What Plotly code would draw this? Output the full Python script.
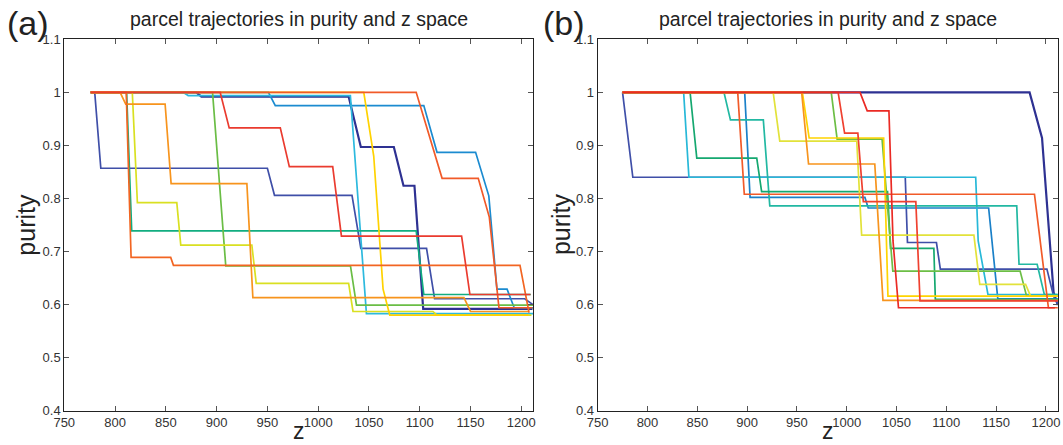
import plotly.graph_objects as go

# window geometry: the html body keeps its default 8px margin; the whole
# CAP_W x CAP_H page is shown at OUT_W x OUT_H
OUT_W, OUT_H = 1063, 445
CAP_W, CAP_H = 1079, 461
BODY_MARGIN = 8
W, H = CAP_W - 2 * BODY_MARGIN, CAP_H - 2 * BODY_MARGIN

# ---------------- panel (a): parcel trajectories ----------------
a_navy_z = [776, 880, 885, 1030, 1042, 1074.5, 1084, 1094.8, 1103.4, 1211]
a_navy_p = [1, 1, 0.992, 0.992, 0.897, 0.897, 0.824, 0.824, 0.592, 0.592]

a_dblue_z = [776, 780, 786, 950, 957, 1033.3, 1042, 1106.7, 1114.6, 1203.4, 1211.5]
a_dblue_p = [1, 1, 0.857, 0.857, 0.806, 0.806, 0.706, 0.706, 0.611, 0.611, 0.600]

a_blue_z = [776, 951, 957.8, 1104, 1117, 1155, 1168, 1176, 1186, 1193, 1211.5]
a_blue_p = [1, 1, 0.975, 0.975, 0.887, 0.887, 0.805, 0.629, 0.629, 0.594, 0.594]

a_cyan_z = [776, 867, 872, 1031.7, 1047.5, 1211.5]
a_cyan_p = [1, 1, 0.994, 0.994, 0.583, 0.583]

a_teal_z = [776, 811.4, 816.4, 1096.5, 1104, 1209.3]
a_teal_p = [1, 1, 0.739, 0.739, 0.619, 0.619]

a_green_z = [776, 896, 909, 1031.8, 1037.7, 1211.5]
a_green_p = [1, 1, 0.673, 0.673, 0.599, 0.599]

a_ygreen_z = [776, 817, 822, 860.8, 864.7, 934.7, 939, 1030, 1034.3, 1113, 1117, 1210]
a_ygreen_p = [1, 1, 0.792, 0.792, 0.712, 0.712, 0.640, 0.640, 0.587, 0.587, 0.580, 0.580]

a_yellow_z = [776, 1044.9, 1054.7, 1063.9, 1070.5, 1207]
a_yellow_p = [1, 1, 0.880, 0.629, 0.580, 0.580]

a_orange_z = [776, 805, 810.5, 849.3, 855.2, 929.8, 935.7, 1143.5, 1150, 1207.6]
a_orange_p = [1, 1, 0.978, 0.978, 0.828, 0.828, 0.613, 0.613, 0.587, 0.587]

a_dorange_z = [776, 811, 815.8, 854.8, 857.5, 1198.7, 1207.6]
a_dorange_p = [1, 1, 0.689, 0.689, 0.674, 0.674, 0.585]

a_ored_z = [776, 1096.5, 1122, 1157.6, 1168.5, 1178, 1211]
a_ored_p = [1, 1, 0.838, 0.838, 0.765, 0.594, 0.594]

a_red_z = [776, 903.5, 912.4, 962.7, 971.6, 1014.3, 1022.9, 1141.2, 1149.4, 1209]
a_red_p = [1, 1, 0.933, 0.933, 0.860, 0.860, 0.729, 0.729, 0.619, 0.619]

# ---------------- panel (b): parcel trajectories ----------------
b_navy_z = [775, 1183.6, 1196.1, 1203, 1207.7, 1212]
b_navy_p = [1, 1, 0.914, 0.75, 0.623, 0.599]

b_dblue_z = [775, 785.3, 1058.8, 1061, 1090.1, 1094, 1201, 1207.7, 1212]
b_dblue_p = [1, 0.840, 0.840, 0.717, 0.717, 0.667, 0.667, 0.616, 0.600]

b_blue_z = [775, 897.6, 903, 1018.3, 1021.6, 1142.5, 1151.7, 1212]
b_blue_p = [1, 1, 0.802, 0.802, 0.782, 0.782, 0.611, 0.611]

b_cyan_z = [775, 836.3, 841.6, 1129.5, 1132, 1141.8, 1212]
b_cyan_p = [1, 1, 0.840, 0.840, 0.720, 0.619, 0.619]

b_teal_z = [775, 876.8, 883.3, 916.3, 922.8, 1170.7, 1173, 1191.2, 1198.4, 1212]
b_teal_p = [1, 1, 0.948, 0.948, 0.786, 0.786, 0.676, 0.676, 0.619, 0.619]

b_green_z = [775, 842.8, 849.5, 909.7, 914.6, 1041, 1044, 1087.5, 1089, 1212]
b_green_p = [1, 1, 0.876, 0.876, 0.813, 0.813, 0.706, 0.706, 0.610, 0.610]

b_lgreen_z = [775, 984.5, 990.4, 1035.5, 1046.3, 1174.1, 1180.6, 1212]
b_lgreen_p = [1, 1, 0.912, 0.912, 0.663, 0.663, 0.616, 0.616]

b_lemon_z = [775, 926.2, 932.8, 1010.1, 1015, 1127.7, 1133.6, 1179.6, 1184.6, 1212]
b_lemon_p = [1, 1, 0.908, 0.908, 0.731, 0.731, 0.638, 0.638, 0.616, 0.616]

b_gold_z = [775, 955.5, 962.3, 1037.1, 1041.4, 1212]
b_gold_p = [1, 1, 0.914, 0.914, 0.616, 0.616]

b_orange_z = [775, 954.8, 961.7, 1028.2, 1036.4, 1212]
b_orange_p = [1, 1, 0.865, 0.865, 0.608, 0.608]

b_ored_z = [775, 890.6, 897.2, 1188.5, 1202.5, 1212]
b_ored_p = [1, 1, 0.808, 0.808, 0.594, 0.594]

b_redb_z = [775, 991.4, 997.9, 1011.2, 1016.7, 1069.4, 1073.6, 1212]
b_redb_p = [1, 1, 0.923, 0.923, 0.794, 0.794, 0.607, 0.607]

b_reda_z = [775, 1013.4, 1020.6, 1042.4, 1046.5, 1052, 1209]
b_reda_p = [1, 1, 0.965, 0.965, 0.720, 0.594, 0.594]

# axis ticks
x_ticks = [750, 800, 850, 900, 950, 1000, 1050, 1100, 1150, 1200]
y_ticks = [0.4, 0.5, 0.6, 0.7, 0.8, 0.9, 1.0, 1.1]
y_tick_text = ["0.4", "0.5", "0.6", "0.7", "0.8", "0.9", "1", "1.1"]

# line styles (colour, width), drawn in order so the reds end up on top
panel_a = [
    (a_navy_z, a_navy_p, "#2E3192", 2.2),
    (a_dblue_z, a_dblue_p, "#3F4FA8", 1.7),
    (a_blue_z, a_blue_p, "#1B8BD0", 1.7),
    (a_cyan_z, a_cyan_p, "#2CB9DE", 1.7),
    (a_teal_z, a_teal_p, "#12AD80", 1.7),
    (a_green_z, a_green_p, "#6ABD45", 1.7),
    (a_ygreen_z, a_ygreen_p, "#D9E021", 1.7),
    (a_yellow_z, a_yellow_p, "#FFD200", 1.7),
    (a_orange_z, a_orange_p, "#F7941D", 1.7),
    (a_dorange_z, a_dorange_p, "#F26522", 1.7),
    (a_ored_z, a_ored_p, "#F15A29", 1.7),
    (a_red_z, a_red_p, "#EA3B2F", 1.7),
]

panel_b = [
    (b_navy_z, b_navy_p, "#2E3192", 2.2),
    (b_dblue_z, b_dblue_p, "#3F4FA8", 1.7),
    (b_blue_z, b_blue_p, "#1A80C8", 1.7),
    (b_cyan_z, b_cyan_p, "#27B8D8", 1.7),
    (b_teal_z, b_teal_p, "#22B8A2", 1.7),
    (b_green_z, b_green_p, "#15A870", 1.7),
    (b_lgreen_z, b_lgreen_p, "#6CBE45", 1.7),
    (b_lemon_z, b_lemon_p, "#E2E23A", 1.7),
    (b_gold_z, b_gold_p, "#FFD400", 1.7),
    (b_orange_z, b_orange_p, "#F7941D", 1.7),
    (b_ored_z, b_ored_p, "#F15A29", 1.7),
    (b_redb_z, b_redb_p, "#EF4130", 1.7),
    (b_reda_z, b_reda_p, "#EA2A24", 1.7),
]

fig = go.Figure()
for xs, ys, col, lw in panel_a:
    fig.add_trace(go.Scatter(x=xs, y=ys, mode="lines", xaxis="x", yaxis="y",
                             line=dict(color=col, width=lw), showlegend=False,
                             hoverinfo="skip"))
for xs, ys, col, lw in panel_b:
    fig.add_trace(go.Scatter(x=xs, y=ys, mode="lines", xaxis="x2", yaxis="y2",
                             line=dict(color=col, width=lw), showlegend=False,
                             hoverinfo="skip"))

FONT = "Helvetica, Liberation Sans, Arial, sans-serif"


def px_x(v):
    """output pixel column -> paper fraction"""
    return (v * CAP_W / OUT_W - BODY_MARGIN) / W


def px_y(v):
    """output pixel row -> paper fraction"""
    return 1 - (v * CAP_H / OUT_H - BODY_MARGIN) / H


ydom = [px_y(411), px_y(40)]
axis_common = dict(
    showline=True, linecolor="#222222", linewidth=1, mirror="ticks",
    ticks="inside", ticklen=5, tickwidth=1, tickcolor="#555555",
    showgrid=False, zeroline=False, ticklabeloverflow="allow",
    tickfont=dict(family=FONT, size=13, color="#333333"),
)

A_LEFT, A_RIGHT = 61, 529
B_LEFT, B_RIGHT = 593, 1052

fig.update_layout(
    width=W, height=H,
    margin=dict(l=0, r=0, t=0, b=0),
    paper_bgcolor="white", plot_bgcolor="white",
    xaxis=dict(domain=[px_x(A_LEFT), px_x(A_RIGHT)], range=[750, 1212], anchor="y",
               tickvals=x_ticks, **axis_common),
    yaxis=dict(domain=ydom, range=[0.4, 1.1], anchor="x",
               tickvals=y_ticks, ticktext=y_tick_text, **axis_common),
    xaxis2=dict(domain=[px_x(B_LEFT), px_x(B_RIGHT)], range=[750, 1212], anchor="y2",
                tickvals=x_ticks, **axis_common),
    yaxis2=dict(domain=ydom, range=[0.4, 1.1], anchor="x2",
                tickvals=y_ticks, ticktext=y_tick_text, **axis_common),
)

title = "parcel trajectories in purity and z space"
annotations = []
panels = [((A_LEFT + A_RIGHT) / 2, 22, "(a)", 25), ((B_LEFT + B_RIGHT) / 2, 556, "(b)", 559)]
for cx, lab_x, tag, tag_x in panels:
    annotations.append(dict(text=title, x=px_x(cx), y=px_y(20), xref="paper", yref="paper",
                            showarrow=False, xanchor="center", yanchor="middle",
                            font=dict(family=FONT, size=19.5, color="#222222")))
    annotations.append(dict(text="purity", x=px_x(lab_x), y=px_y(225), xref="paper", yref="paper",
                            showarrow=False, textangle=-90, xanchor="center", yanchor="middle",
                            font=dict(family=FONT, size=25, color="#222222")))
    annotations.append(dict(text="z", x=px_x(cx), y=px_y(431), xref="paper", yref="paper",
                            showarrow=False, xanchor="center", yanchor="middle",
                            font=dict(family=FONT, size=23, color="#222222")))
    annotations.append(dict(text=tag, x=px_x(tag_x), y=px_y(23.5), xref="paper", yref="paper",
                            showarrow=False, xanchor="center", yanchor="middle",
                            font=dict(family=FONT, size=34, color="#222222")))
fig.update_layout(annotations=annotations)

fig.write_html("out.html", config={"displayModeBar": False})
